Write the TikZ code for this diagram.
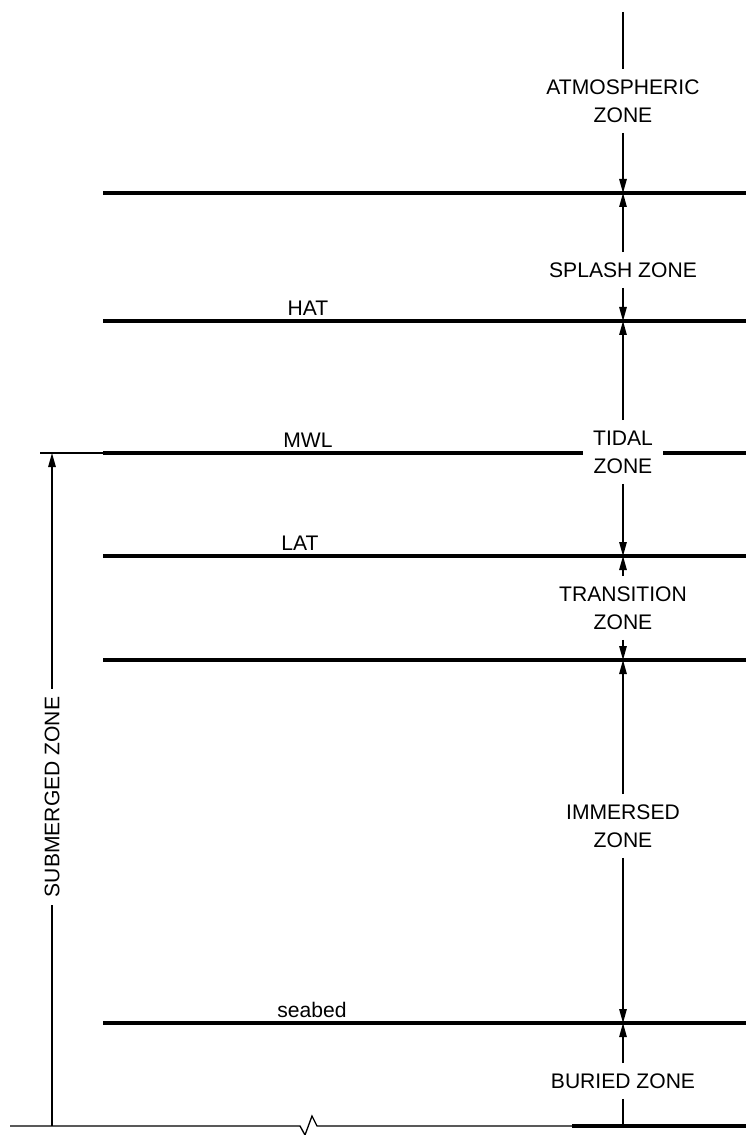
\documentclass[tikz,border=0pt]{standalone}
\usepackage{fontspec}
\setmainfont{Liberation Sans}
\usetikzlibrary{arrows.meta}
\begin{document}
\begin{tikzpicture}[x=0.2mm,y=-0.2mm,
  zone/.style={font=\fontsize{12}{16}\selectfont, align=center, fill=white, inner sep=2mm},
  lvl/.style={font=\fontsize{12}{16}\selectfont, anchor=south, inner sep=1mm},
  thinline/.style={line width=0.75pt},
  dim/.style={thinline, -{Triangle[length=2.8mm,width=1.5mm]}},
  bed/.style={line width=1.8pt}]
\useasboundingbox (0,0) rectangle (746,1135);
% water levels
\foreach \y/\n in {193/l1,321/l2,556/l4,660/l5,1023/l6} {\draw[bed] (103,\y) -- (746,\y); \coordinate (\n) at (623,\y);}
\draw[bed] (103,453) -- (746,453);
\draw[thinline] (40,453) -- (103,453);
\coordinate (mwl) at (52,453);
\coordinate (top) at (623,12);
\coordinate (l7) at (623,1126);
\coordinate (b0) at (52,1126);
% ground line with break
\draw[thinline] (10,1126) -- (300,1126) -- (305,1135) -- (312,1116) -- (317,1126) -- (572,1126);
\draw[bed] (572,1126) -- (746,1126);
\node[lvl] (hat) at (308,321) {HAT};
\node[lvl] (mwltext) at (308,453) {MWL};
\node[lvl] (lat) at (300,556) {LAT};
\node[lvl] (seabed) at (312,1023) {seabed};
% zones
\node[zone] (atm) at (623,101) {ATMOSPHERIC\\ZONE};
\node[zone] (splash) at (623,270) {SPLASH ZONE};
\node[zone] (tidal) at (623,452) {TIDAL\\ZONE};
\node[zone] (trans) at (623,608) {TRANSITION\\ZONE};
\node[zone] (imm) at (623,826) {IMMERSED\\ZONE};
\node[zone] (buried) at (623,1081) {BURIED ZONE};
\node[zone, rotate=90, inner sep=1.5mm] (sub) at (52,797) {SUBMERGED ZONE};
\draw[thinline] (top) -- (atm);
\draw[dim] (atm) -- (l1);
\draw[dim] (splash) -- (l1);
\draw[dim] (splash) -- (l2);
\draw[dim] (tidal) -- (l2);
\draw[dim] (tidal) -- (l4);
\draw[dim] (trans) -- (l4);
\draw[dim] (trans) -- (l5);
\draw[dim] (imm) -- (l5);
\draw[dim] (imm) -- (l6);
\draw[dim] (buried) -- (l6);
\draw[thinline] (buried) -- (l7);
\draw[dim] (sub) -- (mwl);
\draw[thinline] (sub) -- (b0);
\end{tikzpicture}
\end{document}
